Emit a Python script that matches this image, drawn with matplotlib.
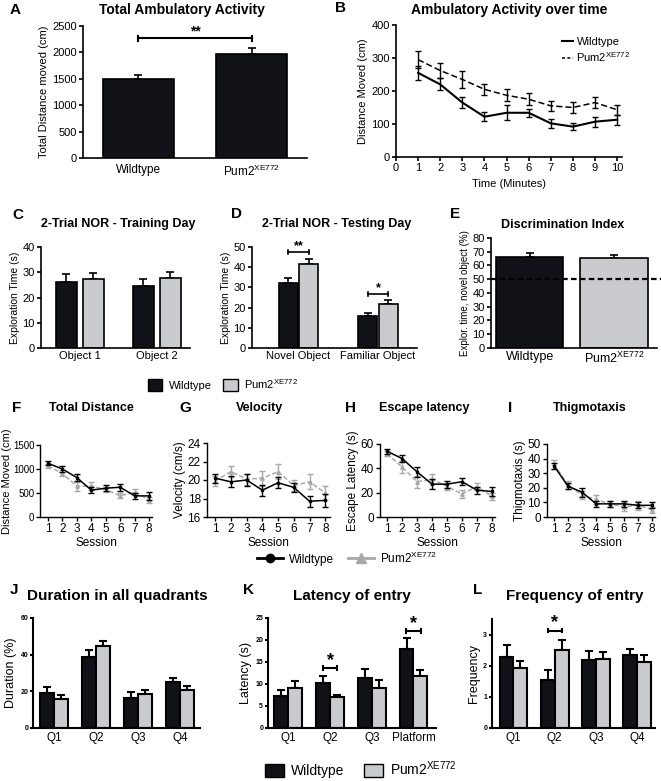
import numpy as np
import matplotlib
matplotlib.use('Agg')
import matplotlib.pyplot as plt
from matplotlib.patches import Patch
from matplotlib.lines import Line2D

plt.rcParams['font.family'] = ['Liberation Sans', 'DejaVu Sans']
plt.rcParams['mathtext.default'] = 'regular'

W, H = 661, 781
BLACK = '#111118'
GRAY = '#c9cbce'
LGRAY = '#a8a8a8'
PUM = 'Pum2$^{XE772}$'

# ==========================
# DATA
# ==========================
# A - total ambulatory activity
a_groups = ['Wildtype', PUM]
a_mean = [1490, 1970]
a_err = [90, 110]

# B - ambulatory activity over time
b_minutes = [1, 2, 3, 4, 5, 6, 7, 8, 9, 10]
b_wt = [255, 220, 165, 122, 134, 134, 102, 92, 107, 113]
b_wt_err = [22, 18, 18, 13, 23, 12, 14, 10, 15, 15]
b_pum = [295, 262, 235, 205, 187, 175, 155, 150, 165, 143]
b_pum_err = [25, 22, 26, 17, 18, 18, 15, 17, 17, 15]

# C - NOR training day
c_objects = ['Object 1', 'Object 2']
c_wt = [26.2, 24.5]
c_wt_err = [3.3, 3.0]
c_pum = [27.2, 27.9]
c_pum_err = [2.4, 2.3]

# D - NOR testing day
d_objects = ['Novel Object', 'Familiar Object']
d_wt = [32.3, 15.8]
d_wt_err = [2.3, 1.6]
d_pum = [41.8, 22.0]
d_pum_err = [2.4, 1.8]

# E - discrimination index
e_groups = ['Wildtype', PUM]
e_mean = [66.5, 65.8]
e_err = [2.5, 1.6]

# F-I - water maze acquisition
sessions = [1, 2, 3, 4, 5, 6, 7, 8]
f_wt = [1120, 1000, 820, 560, 600, 620, 440, 440]
f_wt_err = [40, 60, 80, 70, 60, 70, 60, 80]
f_pum = [1060, 910, 640, 650, 570, 440, 520, 360]
f_pum_err = [40, 60, 90, 80, 50, 50, 70, 60]

g_wt = [20.2, 19.8, 20.0, 18.9, 19.7, 19.2, 17.7, 17.8]
g_wt_err = [0.5, 0.6, 0.6, 0.6, 0.6, 0.5, 0.6, 0.7]
g_pum = [19.9, 20.9, 20.1, 20.2, 20.9, 19.4, 19.8, 18.6]
g_pum_err = [0.5, 0.6, 0.6, 0.8, 0.8, 0.6, 0.8, 0.8]

h_wt = [54, 48, 37, 27, 27, 29, 22, 21]
h_wt_err = [2, 3, 4, 4, 3, 3, 3, 4]
h_pum = [52, 41, 29, 31, 25, 19, 25, 17]
h_pum_err = [2, 5, 5, 4, 3, 3, 3, 3]

i_wt = [35, 21, 17, 9, 9, 9, 8, 8]
i_wt_err = [2, 2, 3, 2, 2, 2, 2, 2]
i_pum = [36, 22, 15, 12, 9, 7, 8, 5]
i_pum_err = [3, 3, 3, 3, 2, 3, 3, 2]

# J-L - probe trial
quadrants = ['Q1', 'Q2', 'Q3', 'Q4']
k_labels = ['Q1', 'Q2', 'Q3', 'Platform']
j_wt = [19.0, 38.5, 16.5, 25.0]
j_wt_err = [3.5, 4.0, 3.0, 2.5]
j_pum = [16.0, 44.5, 18.5, 21.0]
j_pum_err = [2.0, 3.0, 2.5, 2.0]

k_wt = [7.2, 10.2, 11.3, 18.0]
k_wt_err = [1.5, 1.6, 2.0, 2.4]
k_pum = [9.2, 7.0, 9.0, 11.8]
k_pum_err = [1.5, 0.6, 1.8, 1.3]

l_wt = [2.28, 1.53, 2.18, 2.33]
l_wt_err = [0.37, 0.33, 0.28, 0.2]
l_pum = [1.92, 2.50, 2.20, 2.13]
l_pum_err = [0.22, 0.31, 0.25, 0.2]

# ==========================
# HELPERS
# ==========================
fig = plt.figure(figsize=(W / 100, H / 100), dpi=100)


def make_ax(x0, y0, x1, y1, lw=1.2, labelsize=8):
    ax = fig.add_axes([x0 / W, 1 - y1 / H, (x1 - x0) / W, (y1 - y0) / H])
    ax.spines['top'].set_visible(False)
    ax.spines['right'].set_visible(False)
    ax.spines['left'].set_linewidth(lw)
    ax.spines['bottom'].set_linewidth(lw)
    ax.tick_params(width=lw, length=3, labelsize=labelsize, pad=1.5)
    return ax


def bars(ax, x, vals, errs, color, width, lw=1.2, cap=3):
    ax.bar(x, vals, width, color=color, edgecolor='black', linewidth=lw, zorder=2)
    ax.errorbar(x, vals, yerr=[np.zeros(len(errs)), errs], fmt='none',
                ecolor='black', elinewidth=lw, capsize=cap, capthick=lw, zorder=1)


def bracket(ax, x0, x1, y, h, text, fs, ty, lw=1.2):
    ax.plot([x0, x1], [y, y], color='black', lw=lw, clip_on=False)
    ax.plot([x0, x0], [y - h, y + h], color='black', lw=lw, clip_on=False)
    ax.plot([x1, x1], [y - h, y + h], color='black', lw=lw, clip_on=False)
    ax.text((x0 + x1) / 2, ty, text, ha='center', va='center', fontsize=fs,
            fontweight='bold')


def label(x, y, text, size, weight='bold', ha='left'):
    fig.text(x / W, 1 - y / H, text, fontsize=size, fontweight=weight,
             ha=ha, va='center')


# ==========================
# A
# ==========================
ax = make_ax(83, 26, 307, 158)
bars(ax, [0, 1], a_mean, a_err, BLACK, 0.62)
ax.set_xlim(-0.49, 1.49)
ax.set_ylim(0, 2500)
ax.set_yticks(range(0, 2501, 500))
ax.set_xticks([0, 1])
ax.set_xticklabels(a_groups, fontsize=8.5)
ax.tick_params(axis='x', length=0, pad=4)
ax.set_ylabel('Total Distance moved (cm)', fontsize=8, labelpad=2)
bracket(ax, 0, 1, 2270, 45, '**', 10, 2400, lw=1.5)
label(10, 10, 'A', 11)
label(182, 10, 'Total Ambulatory Activity', 10, ha='center')

# ==========================
# B
# ==========================
ax = make_ax(396, 25, 622, 157)
ax.errorbar(b_minutes, b_wt, yerr=b_wt_err, color='black', lw=1.5,
            elinewidth=1, capsize=2, label='Wildtype')
ax.errorbar(b_minutes, b_pum, yerr=b_pum_err, color='black', lw=1.1,
            ls=(0, (4, 2)), elinewidth=1, capsize=2, label=PUM)
ax.set_xlim(0, 10.22)
ax.set_ylim(0, 400)
ax.set_xticks(range(0, 11))
ax.set_yticks(range(0, 401, 100))
ax.set_xlabel('Time (Minutes)', fontsize=8, labelpad=4)
ax.set_ylabel('Distance Moved (cm)', fontsize=8, labelpad=2)
handles = [Line2D([], [], color='black', lw=1.5),
           Line2D([], [], color='black', lw=1.1, ls=(0, (2, 1.5)))]
ax.legend(handles, ['Wildtype', PUM], loc='upper left', bbox_to_anchor=(0.71, 0.95),
          frameon=False, fontsize=8, handlelength=1.0, handletextpad=0.3,
          labelspacing=0.3, borderpad=0)
label(335, 8, 'B', 11)
label(509, 10, 'Ambulatory Activity over time', 10, ha='center')

# ==========================
# C
# ==========================
ax = make_ax(41, 247, 190, 348)
xc = np.arange(len(c_objects))
bars(ax, xc - 0.175, c_wt, c_wt_err, BLACK, 0.27)
bars(ax, xc + 0.175, c_pum, c_pum_err, GRAY, 0.27)
ax.set_xlim(-0.506, 1.43)
ax.set_ylim(0, 40)
ax.set_yticks(range(0, 41, 10))
ax.set_xticks(xc)
ax.set_xticklabels(c_objects)
ax.tick_params(axis='x', length=0, pad=2)
ax.set_ylabel('Exploration Time (s)', fontsize=7.5, labelpad=2)
label(12, 215, 'C', 11)
label(118, 224, '2-Trial NOR - Training Day', 9, ha='center')

# ==========================
# D
# ==========================
ax = make_ax(252, 247, 417, 348)
xd = np.arange(len(d_objects))
bars(ax, xd - 0.13, d_wt, d_wt_err, BLACK, 0.24)
bars(ax, xd + 0.13, d_pum, d_pum_err, GRAY, 0.24)
ax.set_xlim(-0.585, 1.49)
ax.set_ylim(0, 50)
ax.set_yticks(range(0, 51, 10))
ax.set_xticks(xd)
ax.set_xticklabels(d_objects)
ax.tick_params(axis='x', length=0, pad=2)
ax.set_ylabel('Exploration Time (s)', fontsize=7.5, labelpad=2)
bracket(ax, -0.13, 0.13, 47.5, 1.0, '**', 9, 50.5)
bracket(ax, 0.87, 1.13, 26.7, 1.0, '*', 9, 29.5)
label(231, 214, 'D', 11)
label(337, 224, '2-Trial NOR - Testing Day', 9, ha='center')

# ==========================
# E
# ==========================
ax = make_ax(491, 238, 657, 348)
bars(ax, [0, 1], e_mean, e_err, BLACK, 0.8)
ax.plot([-0.46, 1.56], [50, 50], color='black', lw=1.6, ls=(0, (2.5, 1.5)),
        clip_on=False, zorder=3)
ax.set_xlim(-0.46, 1.51)
ax.set_ylim(0, 80)
ax.set_yticks(range(0, 81, 10))
ax.set_xticks([0, 1])
ax.set_xticklabels(e_groups, fontsize=9)
ax.patches[1].set_facecolor(GRAY)
ax.tick_params(axis='x', length=0, pad=2)
ax.set_ylabel('Explor. time, novel object (%)', fontsize=7, labelpad=2)
label(450, 214, 'E', 11)
label(563, 225, 'Discrimination Index', 9, ha='center')

# legend C-E
fig.legend([Patch(facecolor=BLACK, edgecolor='black'), Patch(facecolor=GRAY, edgecolor='black')],
           ['Wildtype', PUM], loc='center left', bbox_to_anchor=(138 / W, 1 - 384 / H),
           ncol=2, frameon=False, fontsize=8, handlelength=1.3, handleheight=1.3,
           handletextpad=0.6, columnspacing=1.0)

# ==========================
# F - I
# ==========================
maze = [
    ('F', 12, 'Total Distance', 91, (40, 445, 152, 517), (0.45, 8.2), (0, 1500), range(0, 1501, 500),
     'Distance Moved (cm)', f_wt, f_wt_err, f_pum, f_pum_err),
    ('G', 179, 'Velocity', 260, (207, 443, 330, 517), (0.48, 8.3), (16, 24), range(16, 25, 2),
     'Velocity (cm/s)', g_wt, g_wt_err, g_pum, g_pum_err),
    ('H', 345, 'Escape latency', 424, (380, 444, 495, 517), (0.52, 8.2), (0, 60), range(0, 61, 20),
     'Escape Latency (s)', h_wt, h_wt_err, h_pum, h_pum_err),
    ('I', 508, 'Thigmotaxis', 590, (547, 444, 655, 517), (0.5, 8.2), (0, 50), range(0, 51, 10),
     'Thigmotaxis (s)', i_wt, i_wt_err, i_pum, i_pum_err),
]
for letter, lx, title, tx, box, xl, yl, yt, ylab, wt, wte, pm, pme in maze:
    ax = make_ax(*box, lw=1.0, labelsize=8.5)
    ax.errorbar(sessions, pm, yerr=pme, color=LGRAY, lw=1.1, ls=(0, (3, 1.5)),
                elinewidth=1, capsize=2, marker='^', ms=2.5, zorder=2)
    ax.errorbar(sessions, wt, yerr=wte, color='black', lw=1.1,
                elinewidth=1, capsize=2, marker='s', ms=2, zorder=3)
    ax.set_xlim(*xl)
    ax.set_ylim(*yl)
    ax.set_xticks(sessions)
    ax.set_yticks(list(yt))
    ax.set_xlabel('Session', fontsize=8.5, labelpad=1)
    ax.set_ylabel(ylab, fontsize=8.5, labelpad=1)
    if letter == 'F':
        ax.tick_params(axis='y', labelsize=7, pad=1)
        ax.set_ylabel(ylab, fontsize=8, labelpad=0.5)
    label(lx, 408, letter, 11)
    label(tx, 408, title, 9, ha='center')

fig.legend([Line2D([], [], color='black', lw=2, marker='o', ms=6),
            Line2D([], [], color=LGRAY, lw=2, marker='^', ms=7)],
           ['Wildtype', PUM], loc='center left', bbox_to_anchor=(246 / W, 1 - 558 / H),
           ncol=2, frameon=False, fontsize=8.5, handlelength=2.2,
           handletextpad=0.5, columnspacing=1.2)

# ==========================
# J - L
# ==========================
probe = [
    ('J', 10, 'Duration in all quadrants', 117, (33, 618, 200, 728), (-0.51, 3.48), (0, 60),
     range(0, 61, 20), 'Duration (%)', quadrants, j_wt, j_wt_err, j_pum, j_pum_err),
    ('K', 243, 'Latency of entry', 352, (268, 618, 436, 728), (-0.49, 3.54), (0, 25),
     range(0, 26, 5), 'Latency (s)', k_labels, k_wt, k_wt_err, k_pum, k_pum_err),
    ('L', 473, 'Frequency of entry', 575, (492, 619, 655, 728), (-0.52, 3.43), (0, 3.5),
     range(0, 4), 'Frequency', quadrants, l_wt, l_wt_err, l_pum, l_pum_err),
]
for letter, lx, title, tx, box, xl, yl, yt, ylab, xlabs, wt, wte, pm, pme in probe:
    ax = make_ax(*box, lw=1.5, labelsize=5)
    xq = np.arange(len(xlabs))
    bars(ax, xq - 0.1675, wt, wte, BLACK, 0.335, lw=1.5, cap=3)
    bars(ax, xq + 0.1675, pm, pme, GRAY, 0.335, lw=1.5, cap=3)
    ax.set_xlim(*xl)
    ax.set_ylim(*yl)
    ax.set_yticks(list(yt))
    for t in ax.get_yticklabels():
        t.set_fontweight('bold')
    ax.set_xticks(xq)
    ax.set_xticklabels(xlabs, fontsize=8.5)
    ax.tick_params(axis='x', length=0, pad=3)
    ax.tick_params(axis='y', length=2)
    ax.set_ylabel(ylab, fontsize=9, labelpad=2)
    label(lx, 590, letter, 11)
    label(tx, 596, title, 11, ha='center')
    if letter == 'K':
        bracket(ax, 1 - 0.17, 1 + 0.17, 13.6, 0.4, '*', 13, 15.3, lw=1.5)
        bracket(ax, 3 - 0.17, 3 + 0.17, 22.0, 0.4, '*', 13, 23.7, lw=1.5)
    if letter == 'L':
        bracket(ax, 1 - 0.17, 1 + 0.17, 3.13, 0.06, '*', 13, 3.38, lw=1.5)

fig.legend([Patch(facecolor=BLACK, edgecolor='black'), Patch(facecolor=GRAY, edgecolor='black')],
           ['Wildtype', PUM], loc='center left', bbox_to_anchor=(252 / W, 1 - 769 / H),
           ncol=2, frameon=False, fontsize=10, handlelength=1.4, handleheight=1.1,
           handletextpad=0.5, columnspacing=1.4)

plt.savefig('out.png', dpi=100)
plt.close()
